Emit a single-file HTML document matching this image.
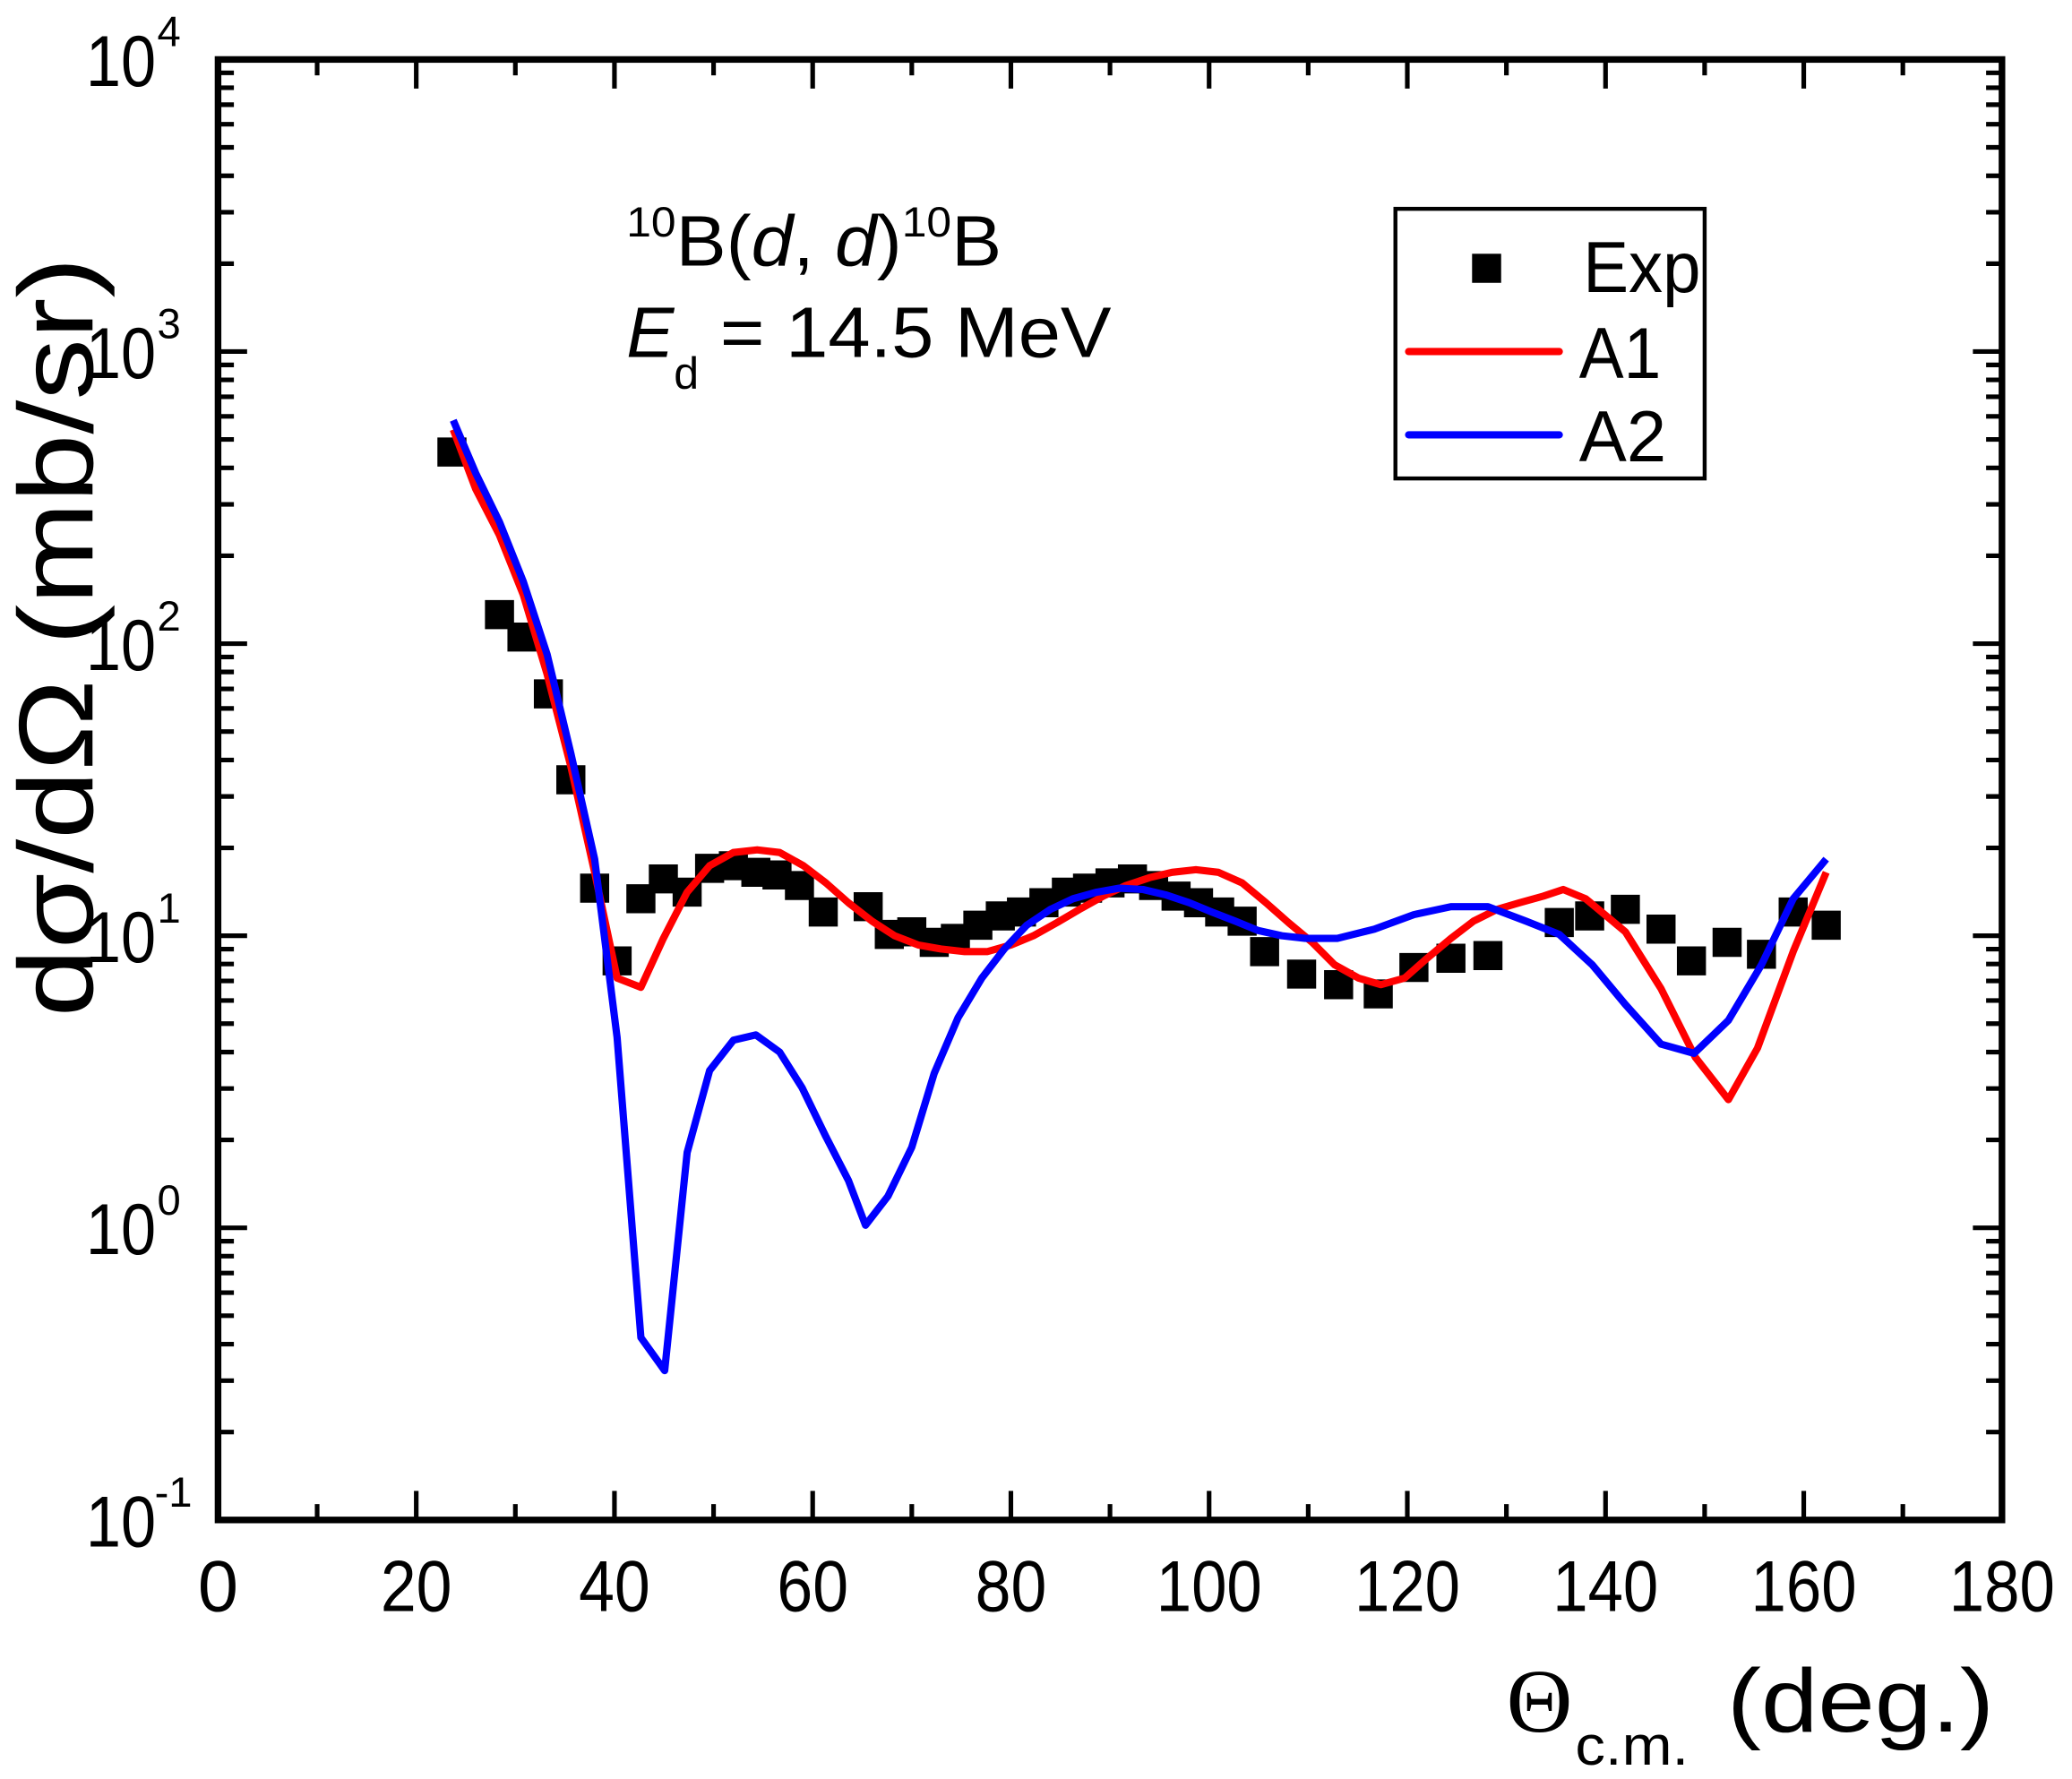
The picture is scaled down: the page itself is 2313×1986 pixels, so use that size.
<!DOCTYPE html>
<html><head><meta charset="utf-8"><style>
html,body{margin:0;padding:0;background:#fff;}
svg{display:block;}
text{font-family:"Liberation Sans",Arial,sans-serif;fill:#000;}
</style></head><body>
<svg width="2313" height="1986" viewBox="0 0 1568 1346" preserveAspectRatio="none" xmlns="http://www.w3.org/2000/svg">
<defs>
<g id="dec" stroke="#000" stroke-width="3.5">
<path d="M165,-66.5h12M165,-105.4h12M165,-133h12M165,-154.5h12M165,-172h12M165,-186.8h12M165,-199.6h12M165,-210.9h12"/>
<path d="M1515,-66.5h-12M1515,-105.4h-12M1515,-133h-12M1515,-154.5h-12M1515,-172h-12M1515,-186.8h-12M1515,-199.6h-12M1515,-210.9h-12"/>
</g>
</defs>
<use href="#dec" transform="translate(0,1150)"/>
<use href="#dec" transform="translate(0,929)"/>
<use href="#dec" transform="translate(0,708)"/>
<use href="#dec" transform="translate(0,487)"/>
<use href="#dec" transform="translate(0,266)"/>
<g stroke="#000" stroke-width="3.5">
<path d="M165,929h22M165,708h22M165,487h22M165,266h22M1515,929h-22M1515,708h-22M1515,487h-22M1515,266h-22"/>
<path d="M315,1150v-22M465,1150v-22M615,1150v-22M765,1150v-22M915,1150v-22M1065,1150v-22M1215,1150v-22M1365,1150v-22"/>
<path d="M240,1150v-12M390,1150v-12M540,1150v-12M690,1150v-12M840,1150v-12M990,1150v-12M1140,1150v-12M1290,1150v-12M1440,1150v-12"/>
<path d="M315,45v22M465,45v22M615,45v22M765,45v22M915,45v22M1065,45v22M1215,45v22M1365,45v22"/>
<path d="M240,45v12M390,45v12M540,45v12M690,45v12M840,45v12M990,45v12M1140,45v12M1290,45v12M1440,45v12"/>
</g>
<rect x="165" y="45" width="1350" height="1105" fill="none" stroke="#000" stroke-width="5"/>

<!-- y labels -->
<g font-size="55" text-anchor="end">
<text x="118" y="1170" textLength="53" lengthAdjust="spacingAndGlyphs">10</text>
<text x="118" y="949" textLength="53" lengthAdjust="spacingAndGlyphs">10</text>
<text x="118" y="728" textLength="53" lengthAdjust="spacingAndGlyphs">10</text>
<text x="118" y="507" textLength="53" lengthAdjust="spacingAndGlyphs">10</text>
<text x="118" y="286" textLength="53" lengthAdjust="spacingAndGlyphs">10</text>
<text x="118" y="65" textLength="53" lengthAdjust="spacingAndGlyphs">10</text>
</g>
<g font-size="32">
<text x="117" y="1140">-1</text><text x="119" y="919">0</text><text x="119" y="698">1</text><text x="119" y="477">2</text><text x="119" y="256">3</text><text x="119" y="35">4</text>
</g>
<!-- x labels -->
<g font-size="55" text-anchor="middle">
<text x="165" y="1219">0</text>
<text x="315" y="1219" textLength="54" lengthAdjust="spacingAndGlyphs">20</text>
<text x="465" y="1219" textLength="54" lengthAdjust="spacingAndGlyphs">40</text>
<text x="615" y="1219" textLength="54" lengthAdjust="spacingAndGlyphs">60</text>
<text x="765" y="1219" textLength="54" lengthAdjust="spacingAndGlyphs">80</text>
<text x="915" y="1219" textLength="80" lengthAdjust="spacingAndGlyphs">100</text>
<text x="1065" y="1219" textLength="80" lengthAdjust="spacingAndGlyphs">120</text>
<text x="1215" y="1219" textLength="80" lengthAdjust="spacingAndGlyphs">140</text>
<text x="1365" y="1219" textLength="80" lengthAdjust="spacingAndGlyphs">160</text>
<text x="1515" y="1219" textLength="80" lengthAdjust="spacingAndGlyphs">180</text>
</g>
<text x="1140" y="1310" font-size="68" style="font-family:'Liberation Serif',serif" textLength="50" lengthAdjust="spacingAndGlyphs">Θ</text>
<text x="1192" y="1335" font-size="42" textLength="86" lengthAdjust="spacingAndGlyphs">c.m.</text>
<text x="1307" y="1310" font-size="68" textLength="202" lengthAdjust="spacingAndGlyphs">(deg.)</text>
<text transform="translate(70,482) rotate(-90)" font-size="80" text-anchor="middle" textLength="575" lengthAdjust="spacingAndGlyphs">dσ/dΩ (mb/sr)</text>

<!-- annotation -->
<text x="474" y="201" font-size="54" textLength="284" lengthAdjust="spacingAndGlyphs"><tspan font-size="32" dy="-22">10</tspan><tspan dy="22">B(</tspan><tspan font-style="italic">d</tspan>, <tspan font-style="italic">d</tspan>)<tspan font-size="32" dy="-22">10</tspan><tspan dy="22">B</tspan></text>
<text x="474" y="270" font-size="54"><tspan font-style="italic">E</tspan></text>
<text x="510" y="294" font-size="34">d</text>
<text x="545" y="270" font-size="54" textLength="296" lengthAdjust="spacingAndGlyphs">= 14.5 MeV</text>

<!-- legend -->
<rect x="1056" y="158" width="234" height="204" fill="#fff" stroke="#000" stroke-width="3"/>
<rect x="1114" y="192" width="22" height="22" fill="#000"/>
<text x="1198" y="221" font-size="55" textLength="89" lengthAdjust="spacingAndGlyphs">Exp</text>
<line x1="1066" y1="266" x2="1180" y2="266" stroke="#f00" stroke-width="5.5" stroke-linecap="round"/>
<text x="1195" y="286" font-size="55" textLength="62" lengthAdjust="spacingAndGlyphs">A1</text>
<line x1="1066" y1="329" x2="1180" y2="329" stroke="#00f" stroke-width="5.5" stroke-linecap="round"/>
<text x="1195" y="349" font-size="55" textLength="66" lengthAdjust="spacingAndGlyphs">A2</text>

<!-- exp points -->
<g fill="#000">
<path d="M331,331h22v22h-22zM367,454h22v22h-22zM384,471h22v22h-22zM404,514h22v22h-22zM421,579h22v22h-22zM439,661h22v22h-22zM456,716h22v22h-22zM474,669h22v22h-22zM491,654h22v22h-22zM509,664h22v22h-22zM526,646h22v22h-22zM544,644h22v22h-22zM561,649h22v22h-22zM577,651h22v22h-22zM594,659h22v22h-22zM612,679h22v22h-22zM646,675h22v22h-22zM662,696h22v22h-22zM679,694h22v22h-22zM696,702h22v22h-22zM712,699h22v22h-22zM729,689h22v22h-22zM746,682h22v22h-22zM762,679h22v22h-22zM779,672h22v22h-22zM796,664h22v22h-22zM812,661h22v22h-22zM829,657h22v22h-22zM846,654h22v22h-22zM862,659h22v22h-22zM879,667h22v22h-22zM896,672h22v22h-22zM912,679h22v22h-22zM929,686h22v22h-22zM946,709h22v22h-22zM974,726h22v22h-22zM1002,734h22v22h-22zM1032,741h22v22h-22zM1059,721h22v22h-22zM1087,714h22v22h-22zM1115,712h22v22h-22zM1169,687h22v22h-22zM1192,682h22v22h-22zM1219,677h22v22h-22zM1246,692h22v22h-22zM1269,716h22v22h-22zM1296,702h22v22h-22zM1322,711h22v22h-22zM1346,679h22v22h-22zM1371,689h22v22h-22z"/>
</g>

<!-- red A1 -->
<polyline fill="none" stroke="#f00" stroke-width="5.5" stroke-linejoin="round" points="343,325 360,370 378,405 396,450 414,510 432,580 450,660 467,740 485,747 502,710 520,675 537,655 555,645 573,643 590,645 608,655 625,668 642,683 660,697 677,708 695,715 712,718 730,720 747,720 765,715 782,708 800,698 817,688 835,678 852,670 870,664 887,660 905,658 922,660 940,668 958,683 975,698 993,713 1010,730 1028,740 1045,745 1063,740 1080,725 1098,710 1115,697 1133,688 1150,683 1168,678 1183,673 1200,680 1230,705 1257,748 1283,800 1308,832 1330,793 1357,720 1382,660"/>
<!-- blue A2 -->
<polyline fill="none" stroke="#00f" stroke-width="5.5" stroke-linejoin="round" points="343,318 360,358 378,395 396,440 414,495 432,570 450,650 467,785 485,1012 503,1037 520,872 537,810 555,787 572,783 590,796 607,823 625,860 642,893 655,927 672,905 690,868 707,812 725,770 743,740 760,718 777,700 795,688 812,680 830,675 847,672 865,673 882,677 900,683 917,690 935,697 952,704 970,708 988,710 1012,710 1040,703 1070,692 1098,686 1126,686 1155,697 1180,707 1205,730 1230,760 1257,790 1282,797 1308,772 1333,730 1357,680 1382,650"/>
</svg>
</body></html>
